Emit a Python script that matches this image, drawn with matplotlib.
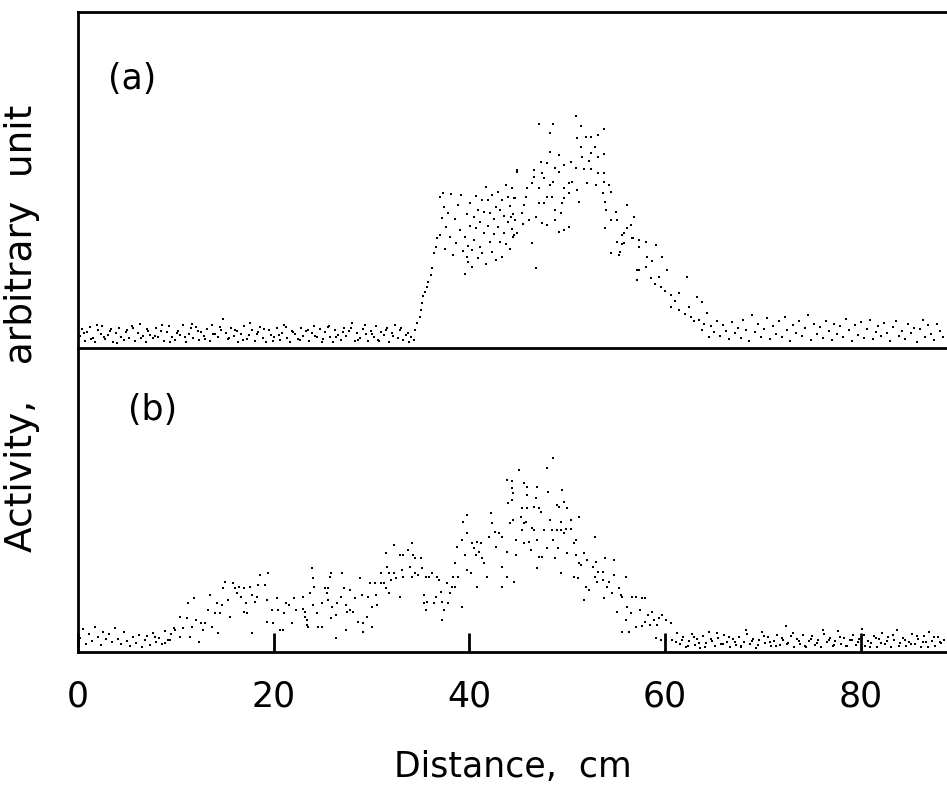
import numpy as np
import matplotlib
matplotlib.use('Agg')
import matplotlib.pyplot as plt

# Activity profiles along the column.
# x = distance (cm), y = activity (arbitrary unit)

# ---- panel (a) ----
A_BASE_X = [0.2, 0.4, 0.7, 0.9, 1.2, 1.5, 1.7, 2.0, 2.3, 2.5, 2.8, 3.1, 3.3, 3.6, 3.9, 4.2, 4.4, 4.7,
            5.0, 5.2, 5.5, 5.8, 6.1, 6.3, 6.6, 6.9, 7.1, 7.4, 7.7, 8.0, 8.2, 8.5, 8.8, 9.1, 9.3, 9.6,
            9.9, 10.2, 10.4, 10.7, 11.0, 11.3, 11.5, 11.8, 12.1, 12.4, 12.6, 12.9, 13.2, 13.5, 13.7, 14.0, 14.3, 14.6, 14.8,
            15.1, 15.3, 15.6, 15.9, 16.2, 16.4, 16.7, 17.0, 17.3, 17.5, 17.8, 18.1, 18.4, 18.6, 18.9, 19.2, 19.5, 19.7,
            20.0, 20.3, 20.6, 20.8, 21.1, 21.4, 21.7, 21.9, 22.2, 22.5, 22.8, 23.0, 23.3, 23.6, 23.9, 24.1, 24.4, 24.7,
            25.0, 25.2, 25.5, 25.8, 26.1, 26.3, 26.6, 26.9, 27.2, 27.4, 27.7, 28.0, 28.3, 28.5, 28.8, 29.1, 29.4, 29.6,
            29.9, 30.2, 30.5, 30.7, 31.0, 31.3, 31.6, 31.8, 32.1, 32.4, 32.7, 32.9, 33.2, 33.5, 33.8, 34.0]
A_BASE_Y = [3.5, 5.8, 2.1, 4.9, 6.2, 3.0, 1.8, 5.4, 4.1, 6.6, 2.6, 3.9, 5.1, 1.9, 4.6, 6.0, 3.2, 2.4,
            5.3, 3.1, 6.4, 2.2, 4.4, 7.0, 3.6, 1.7, 5.6, 4.0, 2.9, 6.1, 3.4, 5.0, 2.0, 4.7, 6.5, 3.3,
            2.5, 5.2, 3.8, 6.7, 1.9, 4.3, 5.9, 3.0, 6.3, 2.3, 4.8, 3.6, 5.7, 2.1, 6.8, 4.1, 3.2, 5.4, 8.6,
            4.6, 2.8, 6.0, 3.5, 5.1, 1.8, 4.2, 6.6, 2.7, 3.9, 5.5, 2.2, 4.9, 6.2, 3.1, 1.9, 5.3, 4.0,
            3.4, 5.9, 2.4, 4.5, 6.9, 3.0, 1.7, 5.2, 4.3, 2.6, 6.1, 3.7, 5.0, 2.0, 4.4, 6.4, 3.3, 5.6,
            2.8, 4.9, 6.3, 3.2, 1.9, 5.5, 4.0, 2.5, 6.0, 3.6, 5.1, 7.3, 2.2, 4.6, 3.0, 5.8, 4.2, 2.1,
            5.0, 3.3, 6.5, 2.4, 4.7, 3.8, 5.9, 1.8, 4.4, 6.8, 3.0, 5.3, 2.3, 4.0, 1.7, 3.2]
A_BASE2_X = [0.6, 1.3, 1.9, 2.7, 3.4, 4.0, 4.9, 5.6, 6.4, 7.2, 7.9, 8.6, 9.4, 10.1, 10.9, 11.6,
             12.3, 13.0, 13.8, 14.5, 15.4, 16.0, 16.9, 17.6, 18.3, 19.0, 19.9, 20.5, 21.3, 22.0, 22.7,
             23.5, 24.2, 24.9, 25.6, 26.4, 27.1, 27.9, 28.6, 29.3, 30.0, 30.8, 31.5, 32.2, 33.0, 33.7]
A_BASE2_Y = [4.4, 2.7, 6.9, 3.3, 5.6, 1.6, 4.8, 6.0, 2.9, 5.1, 3.7, 6.8, 1.9, 4.5, 3.4, 7.2,
             5.0, 2.6, 4.2, 6.3, 3.0, 5.4, 2.3, 7.4, 4.1, 5.8, 2.0, 3.9, 6.2, 4.8, 2.4,
             5.3, 3.5, 1.8, 6.6, 3.2, 4.7, 5.9, 2.5, 6.9, 4.3, 2.2, 5.5, 3.6, 6.1, 4.6]

A_PEAK = [
    # steep rise
    (34.3, 2.4), (34.4, 5.4), (34.6, 7.4), (34.9, 9.2), (35.0, 11.3), (35.2, 13.4), (35.3, 15.5),
    (35.5, 16.7), (35.7, 18.2), (35.8, 19.6), (36.1, 21.7), (36.2, 23.8), (36.4, 28.3), (36.6, 30.1),
    (36.7, 32.7), (37.0, 33.6), (37.2, 38.7), (37.4, 42.0),
    # first shoulder
    (37.0, 44.9), (37.3, 46.1), (37.5, 29.5), (37.6, 36.0), (37.8, 40.2), (38.0, 33.1), (38.1, 45.8),
    (38.3, 27.6), (38.5, 38.5), (38.6, 31.2), (38.8, 42.6), (39.0, 35.1), (39.1, 45.5), (39.3, 29.0),
    (39.5, 33.0), (39.5, 22.0), (39.7, 27.1), (39.7, 39.9), (39.9, 25.6), (39.9, 30.4), (40.1, 36.3),
    (40.1, 43.2), (40.3, 29.2), (40.3, 24.1), (40.5, 39.0), (40.5, 32.1), (40.7, 35.7), (40.7, 45.1),
    (40.9, 26.8), (40.9, 41.0), (41.1, 30.1), (41.1, 37.5), (41.3, 44.0), (41.3, 28.3), (41.5, 34.2),
    (41.5, 40.5), (41.7, 25.0), (41.7, 47.9), (41.9, 36.4), (41.9, 43.9), (42.1, 31.5), (42.1, 40.1),
    (42.3, 28.6), (42.3, 45.6), (42.5, 34.0), (42.5, 38.4), (42.7, 42.0), (42.7, 26.3), (42.9, 46.4),
    (42.9, 36.0), (43.1, 31.4), (43.1, 41.2), (43.3, 27.2), (43.3, 44.1), (43.5, 34.2), (43.5, 39.3),
    (43.7, 48.5), (43.7, 31.0), (43.9, 37.6), (43.9, 45.0), (44.1, 29.5), (44.1, 42.3), (44.3, 35.5),
    (44.3, 47.5), (44.5, 40.0), (44.5, 33.0), (44.7, 44.5), (44.7, 38.2), (44.9, 52.4), (44.9, 34.3),
    # main peak
    (44.9, 53.0), (44.6, 44.6), (44.2, 39.0), (44.6, 33.6), (46.6, 53.0), (46.6, 50.9), (46.4, 49.1),
    (45.9, 47.6), (45.8, 44.9), (45.6, 42.6), (45.4, 40.2), (46.1, 38.1), (45.5, 36.9), (46.8, 39.0),
    (46.4, 31.3), (46.8, 23.8), (47.1, 47.6), (47.3, 55.4), (47.4, 52.1), (47.6, 50.6), (48.2, 48.5),
    (47.9, 44.9), (47.6, 43.2), (47.1, 43.2), (47.4, 37.2), (47.9, 36.6), (48.2, 64.0), (47.1, 66.7),
    (48.5, 66.7), (48.2, 58.3), (47.9, 55.2), (48.7, 53.6), (48.5, 49.4), (48.4, 44.9), (48.7, 41.1),
    (48.7, 38.1), (49.2, 57.4), (49.2, 52.4), (49.7, 54.5), (50.4, 55.4), (49.7, 47.6), (49.7, 44.6),
    (49.5, 43.2), (50.2, 49.1), (50.2, 46.1), (50.5, 49.4), (49.2, 34.5), (49.7, 35.1), (50.2, 36.0),
    (49.4, 40.2), (50.9, 69.0), (51.4, 66.1), (51.0, 62.5), (51.9, 62.8), (52.4, 62.8), (51.4, 59.8),
    (52.8, 59.8), (53.1, 63.4), (53.8, 65.2), (52.4, 58.0), (51.5, 56.8), (52.2, 55.7), (53.1, 56.8),
    (53.8, 57.7), (50.9, 53.6), (51.7, 53.3), (52.4, 53.3), (53.1, 52.1), (53.8, 52.1), (51.0, 47.0),
    (52.0, 49.1), (52.9, 48.5), (53.8, 49.4), (54.3, 48.5), (53.6, 46.1), (54.5, 46.4), (51.2, 43.5),
    (53.9, 43.5), (54.0, 41.1), (55.0, 40.5), (54.5, 38.1), (55.1, 38.1), (53.9, 35.7), (56.1, 42.6),
    (56.8, 39.0), (56.5, 36.6), (56.1, 35.7), (55.6, 33.6), (55.1, 31.5), (55.8, 31.3), (54.5, 28.3),
    (55.3, 27.7), (56.7, 32.7), (57.1, 23.2), (57.1, 20.2), (55.8, 34.2), (55.6, 31.0), (55.4, 28.5),
    # decay
    (56.6, 32.7), (57.3, 32.1), (58.0, 31.5), (57.3, 30.1), (59.1, 30.7), (58.1, 27.1), (59.7, 27.1),
    (57.3, 23.2), (58.0, 24.1), (58.6, 20.8), (59.4, 21.1), (60.2, 23.2), (59.6, 18.2), (60.6, 15.8),
    (61.4, 16.4), (62.2, 21.1), (60.6, 12.2), (61.4, 11.3), (62.4, 12.2), (63.3, 15.2), (63.8, 13.7),
    (62.6, 9.2), (63.5, 8.3), (64.3, 10.4), (63.8, 5.4), (64.5, 3.3), (58.7, 26.0), (59.0, 19.0),
    (60.0, 17.0), (61.0, 14.0), (62.0, 10.0), (62.9, 8.0), (64.0, 7.0),
]

A_TAIL_X = [64.7, 65.0, 65.3, 65.6, 65.9, 66.2, 66.5, 66.8, 67.1, 67.4, 67.7, 68.0, 68.3, 68.6, 68.9, 69.2, 69.5, 69.8, 70.1, 70.4,
            70.7, 71.0, 71.3, 71.6, 71.9, 72.2, 72.5, 72.8, 73.1, 73.4, 73.7, 74.0, 74.3, 74.6, 74.9, 75.2, 75.5, 75.8, 76.1, 76.4,
            76.7, 77.0, 77.3, 77.6, 77.9, 78.2, 78.5, 78.8, 79.1, 79.4, 79.7, 80.0, 80.3, 80.6, 80.9, 81.2, 81.5, 81.8, 82.1, 82.4,
            82.7, 83.0, 83.3, 83.6, 83.9, 84.2, 84.5, 84.8, 85.1, 85.4, 85.7, 86.0, 86.3, 86.6, 86.9, 87.2, 87.5, 87.8, 88.1, 88.4]
A_TAIL_Y = [6.5, 4.8, 8.0, 3.6, 6.9, 5.2, 2.6, 7.6, 4.4, 6.1, 3.0, 8.4, 5.5, 2.2, 9.8, 4.9, 7.0, 3.4, 5.8, 8.9,
            2.7, 6.4, 4.1, 7.9, 3.2, 9.3, 5.5, 2.0, 6.8, 4.6, 8.1, 3.6, 5.9, 9.8, 2.5, 7.2, 4.3, 6.2, 3.1, 8.0,
            5.0, 2.4, 7.0, 4.2, 6.5, 3.3, 8.6, 5.4, 2.1, 6.9, 4.0, 7.7, 3.0, 5.6, 8.2, 2.6, 4.8, 6.6, 3.5, 7.4,
            4.5, 2.2, 6.3, 8.1, 3.7, 5.2, 2.8, 7.2, 4.6, 6.0, 1.9, 5.7, 8.3, 3.4, 6.7, 4.2, 2.5, 7.0, 5.0, 3.3]

# ---- panel (b) ----
B_BASE_X = [0.2, 0.5, 0.8, 1.1, 1.4, 1.7, 2.0, 2.3, 2.6, 2.9, 3.2, 3.5, 3.8, 4.1, 4.4, 4.7, 5.0, 5.3, 5.6, 5.9,
            6.2, 6.5, 6.8, 7.1, 7.4, 7.7, 8.0, 8.3, 8.6, 8.9, 9.2, 9.5, 9.8]
B_BASE_Y = [4.2, 6.8, 2.5, 5.3, 3.4, 7.5, 4.6, 2.1, 6.0, 3.8, 5.5, 2.9, 7.1, 4.0, 2.4, 5.9, 3.2, 1.8, 4.5, 2.7,
            5.0, 1.6, 3.6, 4.7, 2.2, 5.6, 3.0, 4.1, 2.4, 6.2, 3.6, 5.3, 7.0]

B_PEAK = [
    # first hump (~17 cm)
    (7.9, 4.5), (8.9, 2.7), (9.4, 3.6), (9.9, 6.5), (10.4, 4.5), (10.7, 7.1), (11.1, 10.1), (11.4, 4.5),
    (11.7, 7.4), (11.9, 16.1), (11.2, 14.6), (10.4, 10.4), (12.1, 9.5), (12.4, 3.0), (12.8, 6.5), (12.6, 8.6),
    (13.0, 8.6), (13.3, 12.5), (13.5, 17.0), (13.7, 7.4), (14.0, 11.6), (14.2, 14.6), (14.3, 5.7), (14.5, 11.6),
    (14.7, 14.0), (14.8, 19.0), (15.0, 20.8), (15.3, 15.5), (15.5, 10.4), (15.8, 20.5), (16.0, 19.0), (16.2, 17.6),
    (16.5, 19.3), (16.7, 16.4), (17.0, 19.0), (17.2, 14.6), (17.3, 11.6), (17.6, 19.3), (17.8, 17.0), (18.1, 14.9),
    (18.3, 16.4), (18.4, 19.9), (18.6, 22.9), (19.1, 19.9), (19.3, 15.5), (19.4, 23.5), (17.8, 5.7), (17.0, 11.9),
    (19.3, 8.9), (19.8, 12.5), (19.9, 8.6), (20.3, 16.1), (20.4, 12.5), (20.6, 6.5), (20.9, 6.5), (21.3, 14.6),
    (21.1, 11.6), (21.6, 14.0), (22.1, 16.1), (22.3, 12.5), (21.9, 8.6), (23.0, 16.4), (23.2, 10.4), (23.4, 8.0),
    (23.0, 12.8),
    # second hump (~33 cm)
    (23.2, 11.9), (23.4, 9.5), (23.5, 7.4), (23.9, 25.0), (24.0, 22.0), (24.1, 19.3), (23.7, 17.6), (24.0, 14.0),
    (24.4, 11.6), (24.5, 7.4), (24.9, 7.4), (24.9, 14.6), (25.2, 19.0), (25.5, 19.0), (25.4, 17.6), (25.7, 22.3),
    (25.9, 23.5), (25.5, 15.5), (26.0, 13.4), (25.9, 10.1), (26.4, 4.2), (26.5, 14.6), (26.4, 11.0), (26.9, 16.4),
    (27.0, 23.5), (27.2, 19.0), (27.4, 14.0), (27.4, 6.5), (27.5, 11.9), (27.8, 18.5), (27.8, 12.5), (28.1, 11.9),
    (28.3, 16.1), (28.6, 8.9), (28.8, 22.0), (29.0, 17.0), (29.1, 8.6), (29.1, 6.0), (29.5, 10.4), (29.6, 16.4),
    (29.8, 20.5), (30.0, 13.4), (30.0, 7.4), (30.3, 20.5), (30.5, 17.0), (30.6, 14.0), (31.0, 23.5), (31.0, 20.5),
    (31.3, 20.5), (31.5, 19.0), (31.6, 25.3), (31.5, 29.5), (31.8, 23.5), (31.8, 17.6), (32.0, 21.4), (32.3, 23.5),
    (32.3, 31.8), (32.5, 22.0), (32.9, 28.9), (33.1, 24.4), (32.9, 16.4), (33.2, 28.9), (33.2, 22.3), (33.7, 30.4),
    (33.9, 25.3), (34.1, 22.3), (34.1, 32.4), (34.2, 28.9), (34.4, 28.0), (34.4, 23.5), (34.7, 22.9), (35.1, 28.0),
    (35.2, 25.0), (35.6, 22.3), (35.4, 17.0), (35.4, 14.6), (35.6, 12.5), (35.7, 14.9), (35.9, 22.3), (36.2, 23.5),
    (36.4, 14.6), (36.6, 16.4), (36.7, 22.3), (36.9, 21.4), (37.1, 17.9), (37.2, 14.9), (37.2, 9.5), (37.4, 12.5),
    (37.7, 20.5), (37.8, 14.6), (38.0, 17.6), (38.2, 19.3), (38.3, 22.3), (38.5, 26.5), (38.5, 19.3), (38.7, 31.3),
    (38.8, 22.3), (39.2, 33.3), (39.2, 13.4), (39.3, 38.7), (39.5, 28.9), (39.7, 35.4), (39.8, 40.8), (39.7, 24.4),
    # main peak (~48 cm)
    (40.2, 23.5), (40.3, 32.4), (40.5, 31.0), (40.7, 28.9), (40.8, 32.7), (41.2, 32.4), (41.0, 29.8), (41.3, 28.0),
    (41.5, 26.5), (40.8, 19.3), (41.8, 22.3), (42.2, 41.4), (42.3, 38.4), (42.6, 35.7), (42.0, 34.2), (42.7, 31.3),
    (43.0, 35.4), (43.3, 34.2), (43.3, 25.3), (43.8, 22.3), (43.3, 19.3), (43.8, 29.8), (44.1, 38.4), (44.4, 39.3),
    (43.9, 44.3), (44.3, 45.2), (44.4, 47.3), (44.3, 48.8), (43.8, 51.2), (44.3, 50.9), (44.8, 28.9), (44.6, 20.8),
    (45.1, 54.2), (44.8, 33.3), (45.3, 40.2), (45.4, 42.9), (45.6, 38.4), (45.8, 38.7), (45.6, 50.3), (45.9, 49.1),
    (45.9, 46.7), (45.4, 36.3), (45.6, 32.4), (45.9, 42.9), (46.1, 32.7), (46.3, 30.4), (46.6, 43.2), (46.8, 45.8),
    (46.4, 36.9), (46.6, 36.3), (46.9, 49.1), (47.1, 42.9), (46.9, 33.3), (47.1, 28.3), (47.3, 41.7), (47.4, 28.3),
    (46.9, 25.0), (47.6, 36.3), (47.9, 54.8), (48.0, 47.6), (47.9, 31.0), (48.2, 39.3), (48.4, 36.3), (48.5, 57.7),
    (48.5, 33.3), (48.7, 28.0), (48.9, 36.3), (48.9, 43.8), (49.0, 31.0), (49.2, 43.2), (49.4, 38.7), (49.4, 36.3),
    (49.5, 48.2), (49.7, 44.6), (49.7, 35.4), (49.9, 36.6), (50.0, 42.9), (50.0, 29.5), (49.4, 23.5), (50.4, 39.3),
    (50.4, 36.6), (50.7, 32.4), (50.9, 33.3), (50.7, 22.3), (50.9, 28.9), (51.2, 40.2), (51.2, 26.5), (51.4, 25.9),
    (51.1, 22.0), (51.7, 29.5), (52.0, 27.4), (52.8, 34.2), (51.9, 19.3), (52.2, 18.5), (51.7, 15.5), (52.6, 25.3),
    (52.8, 22.3), (52.9, 26.8), (53.1, 23.8), (53.0, 20.8), (53.6, 23.8), (53.6, 21.4), (53.9, 28.0), (54.1, 19.3),
    (54.3, 20.8), (54.8, 27.4), (54.8, 22.9), (54.6, 17.6), (53.8, 16.1), (55.3, 19.0), (55.5, 17.0), (55.6, 16.4),
    (56.0, 22.3), (56.1, 13.4), (56.5, 11.6), (56.6, 16.4), (57.0, 16.4), (57.6, 16.1), (57.9, 16.1), (57.4, 12.5),
    (56.0, 9.5), (56.3, 6.0), (55.6, 6.0), (55.1, 11.9), (57.0, 7.4), (57.6, 7.7), (57.9, 8.9), (58.4, 8.0),
    (58.2, 11.0), (58.7, 11.9), (58.9, 9.5), (59.2, 8.0), (59.4, 10.1), (59.7, 11.0), (60.1, 9.5), (60.6, 8.6),
    (59.1, 4.2), (59.6, 3.6), (60.1, 3.6), (60.7, 3.6), (61.2, 5.7), (61.1, 3.0),
]

B_TAIL_X = [61.5, 61.8, 62.1, 62.4, 62.7, 63.0, 63.3, 63.6, 63.9, 64.2, 64.5, 64.8, 65.1, 65.4, 65.7, 66.0, 66.3, 66.6, 66.9, 67.2,
            67.5, 67.8, 68.1, 68.4, 68.7, 69.0, 69.3, 69.6, 69.9, 70.2, 70.5, 70.8, 71.1, 71.4, 71.7, 72.0, 72.3, 72.6, 72.9, 73.2,
            73.5, 73.8, 74.1, 74.4, 74.7, 75.0, 75.3, 75.6, 75.9, 76.2, 76.5, 76.8, 77.1, 77.4, 77.7, 78.0, 78.3, 78.6, 78.9, 79.2,
            79.5, 79.8, 80.1, 80.4, 80.7, 81.0, 81.3, 81.6, 81.9, 82.2, 82.5, 82.8, 83.1, 83.4, 83.7, 84.0, 84.3, 84.6, 84.9, 85.2,
            85.5, 85.8, 86.1, 86.4, 86.7, 87.0, 87.3, 87.6, 87.9, 88.2, 88.5]
B_TAIL_Y = [2.4, 4.6, 1.5, 3.3, 5.4, 2.0, 3.9, 1.2, 4.8, 2.7, 6.1, 3.4, 1.8, 4.2, 2.5, 5.0, 3.1, 1.4, 3.8, 2.2,
            4.5, 1.7, 3.0, 5.3, 2.3, 4.0, 1.3, 3.5, 6.0, 2.6, 4.4, 1.9, 3.2, 5.1, 2.0, 3.7, 7.6, 2.8, 4.7, 1.6,
            3.9, 2.4, 5.2, 1.5, 3.4, 4.8, 2.1, 3.7, 1.4, 5.5, 2.9, 4.1, 1.8, 3.3, 6.2, 2.5, 4.3, 1.7, 3.6, 5.0,
            2.2, 4.0, 6.8, 1.9, 3.2, 2.6, 4.9, 1.5, 3.8, 5.7, 2.3, 4.4, 1.6, 3.5, 6.4, 2.7, 4.2, 1.8, 3.1, 5.3,
            2.4, 3.9, 1.4, 4.7, 2.9, 6.0, 3.3, 1.7, 4.5, 2.6, 3.6]
B_TAIL2_X = [61.7, 62.3, 62.9, 63.5, 64.1, 64.7, 65.3, 65.9, 66.5, 67.1, 67.7, 68.3, 68.9, 69.5, 70.1,
             70.7, 71.3, 71.9, 72.5, 73.1, 73.7, 74.3, 74.9, 75.5, 76.1, 76.7, 77.3, 77.9, 78.5, 79.1,
             79.7, 80.3, 80.9, 81.5, 82.1, 82.7, 83.3, 83.9, 84.5, 85.1, 85.7, 86.3, 86.9, 87.5, 88.1]
B_TAIL2_Y = [3.6, 1.9, 4.4, 2.8, 1.5, 3.9, 5.6, 2.3, 4.6, 3.1, 1.6, 6.4, 3.4, 2.1, 4.9,
             3.0, 1.7, 4.3, 2.5, 5.8, 3.2, 1.9, 4.0, 2.7, 6.5, 3.5, 2.2, 4.5, 1.8, 3.7,
             2.9, 5.1, 1.5, 4.2, 2.6, 3.3, 5.0, 1.9, 3.6, 2.4, 4.8, 3.0, 1.6, 4.4, 2.9]

XTICKS = [0, 20, 40, 60, 80]

FONT = 'DejaVu Sans'
INK = 'black'


def panel_points(peak, *pairs):
    pk = np.array(peak)
    xs = [pk[:, 0]] + [np.asarray(p[0]) for p in pairs]
    ys = [pk[:, 1]] + [np.asarray(p[1]) for p in pairs]
    return np.concatenate(xs), np.concatenate(ys)


fig = plt.figure(figsize=(9.47, 7.90), dpi=100)
W, H = 947, 790
left = 78 / W
ax_a = fig.add_axes([left, 1 - 348 / H, 1 - left, (348 - 12) / H])
ax_b = fig.add_axes([left, 1 - 652 / H, 1 - left, (652 - 348) / H])
ax_b.patch.set_alpha(0)

xa, ya = panel_points(A_PEAK, (A_BASE_X, A_BASE_Y), (A_BASE2_X, A_BASE2_Y),
                      (A_TAIL_X, A_TAIL_Y))
xb, yb = panel_points(B_PEAK, (B_BASE_X, B_BASE_Y), (B_TAIL_X, B_TAIL_Y),
                      (B_TAIL2_X, B_TAIL2_Y))

for ax, x, y in [(ax_a, xa, ya), (ax_b, xb, yb)]:
    ax.scatter(x, y, s=4.5, marker='s', color=INK, linewidths=0, zorder=3)
    ax.set_xlim(0, 88.8)
    ax.spines['right'].set_visible(False)
    for sp in ['left', 'bottom', 'top']:
        ax.spines[sp].set_linewidth(2.0)
        ax.spines[sp].set_color(INK)
    ax.set_yticks([])

ax_a.set_ylim(0, 100)
ax_b.set_ylim(0, 304 / 3.36)
ax_b.spines['top'].set_visible(False)

ax_a.set_xticks([])
ax_b.set_xticks(XTICKS)
ax_b.set_xticklabels([str(t) for t in XTICKS], fontsize=25, family=FONT)
ax_b.tick_params(axis='x', direction='in', length=14, width=2, pad=20, colors=INK)

ax_a.text(0.035, 0.80, '(a)', transform=ax_a.transAxes, fontsize=25,
          family=FONT, va='center', ha='left')
ax_b.text(0.058, 0.795, '(b)', transform=ax_b.transAxes, fontsize=25,
          family=FONT, va='center', ha='left')

ax_b.set_xlabel('Distance,  cm', fontsize=25, family=FONT, labelpad=26)
fig.text(22 / W, 1 - 328 / H, 'Activity,   arbitrary  unit', rotation=90,
         fontsize=27, family=FONT, ha='center', va='center')

plt.savefig('out.png', dpi=100, facecolor='white')
plt.close()
